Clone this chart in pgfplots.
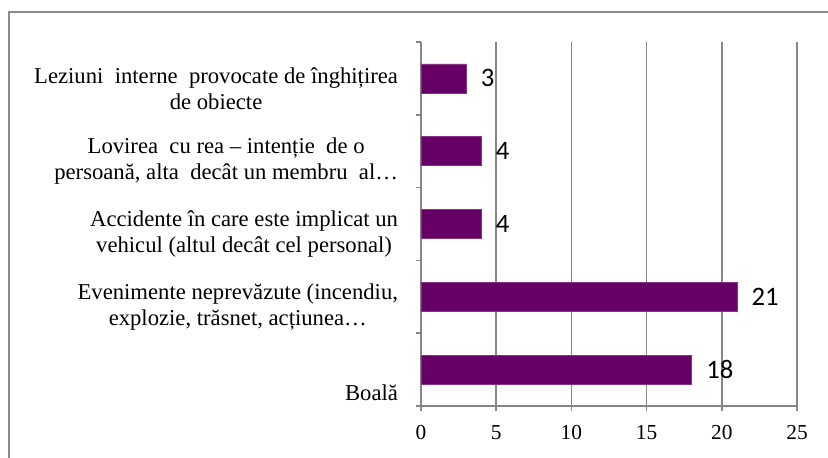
\documentclass[border=0pt]{standalone}
\usepackage{fontspec}
\setmainfont{Liberation Serif}
\newfontfamily\calibri{Carlito}
\usepackage{pgfplots}
\pgfplotsset{compat=1.18}
\definecolor{barpurple}{HTML}{660066}
\definecolor{gridgray}{HTML}{868686}
\definecolor{framegray}{HTML}{8C8C8C}

\begin{document}
\begin{tikzpicture}
\useasboundingbox (0pt,0pt) rectangle (621pt,342.75pt);
\draw[framegray, line width=1.5pt] (6.75pt,-20pt) -- (6.75pt,333.75pt) -- (640pt,333.75pt);
\begin{axis}[
    at={(315.75pt,38.25pt)}, anchor=south west, scale only axis,
    width=282pt, height=273pt,
    xbar, bar width=21.75pt,
    xmin=0, xmax=25, ymin=0.5, ymax=5.5,
    xtick={0,5,10,15,20,25},
    ytick={1,2,3,4,5},
    minor ytick={0.5,1.5,2.5,3.5,4.5,5.5},
    yticklabels={
        \raisebox{-15.5pt}[0pt][0pt]{Boală},
        {Evenimente neprevăzute (incendiu,\\explozie, trăsnet, acțiunea…},
        {Accidente în care este implicat un\\vehicul (altul decât cel personal)},
        {Lovirea\ \ cu rea – intenție\ \ de o\\persoană, alta\ \ decât un membru\ \ al…},
        {Leziuni\ \ interne\ \ provocate de înghițirea\\de obiecte}
    },
    axis lines*=left, axis line style={gridgray, line width=1.2pt},
    xmajorgrids, major grid style={gridgray, line width=1.2pt},
    tick align=outside, major tick length=3.75pt, minor tick length=3.75pt,
    major y tick style={draw=none},
    minor y tick style={gridgray, line width=1.2pt},
    major x tick style={gridgray, line width=1.2pt},
    /pgf/number format/assume math mode=true,
    xticklabel style={font=\fontsize{16}{18}\selectfont, yshift=-7pt},
    yticklabel style={font=\fontsize{17}{19.5}\selectfont, align=center, yshift=-7.5pt, xshift=-10pt},
    nodes near coords,
    nodes near coords style={font=\calibri\fontsize{20}{22}\selectfont, anchor=west, xshift=7.5pt, black},
]
\addplot[fill=barpurple, draw=barpurple!80!white] coordinates {(18,1) (21,2) (4,3) (4,4) (3,5)};
\end{axis}
\end{tikzpicture}
\end{document}
